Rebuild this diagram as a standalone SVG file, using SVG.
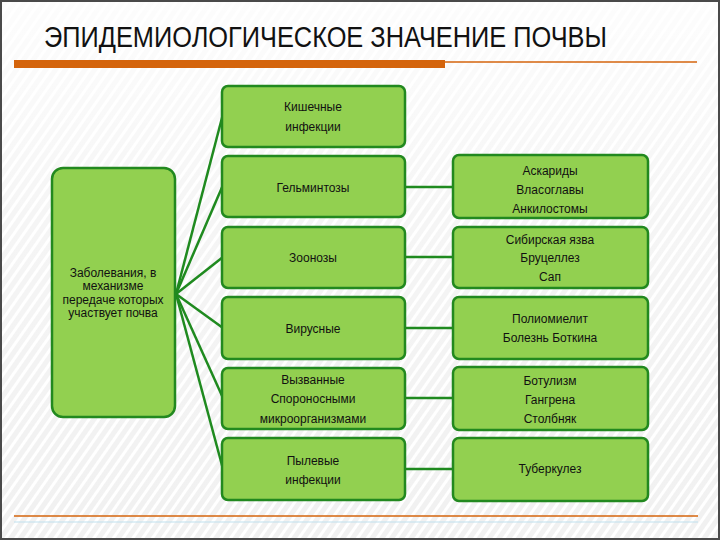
<svg xmlns="http://www.w3.org/2000/svg" width="720" height="540" viewBox="0 0 720 540">
<defs>
<pattern id="stripes" width="8" height="8" patternUnits="userSpaceOnUse" patternTransform="rotate(35)">
<rect width="8" height="8" fill="#f1f1f1"/>
<rect width="3" height="8" fill="#ffffff"/>
</pattern>
<linearGradient id="fade" x1="0" y1="0" x2="0" y2="1">
<stop offset="0" stop-color="#ffffff" stop-opacity="0.85"/>
<stop offset="0.4" stop-color="#ffffff" stop-opacity="0.3"/>
<stop offset="1" stop-color="#ffffff" stop-opacity="0"/>
</linearGradient>
</defs>
<style>
.box{fill:#92d050;stroke:#22891f;stroke-width:2.5}
.conn{stroke:#1f8a1f;stroke-width:2.5;fill:none}
.t{font-family:"Liberation Sans",Arial,sans-serif;font-size:12px;fill:#111;text-anchor:middle}
.tl{font-family:"Liberation Sans",Arial,sans-serif;font-size:12px;fill:#111;text-anchor:middle}
.title{font-family:"Liberation Sans",Arial,sans-serif;font-size:30px;fill:#111}
</style>
<rect x="0" y="0" width="720" height="540" fill="url(#stripes)"/>
<rect x="0" y="0" width="720" height="540" fill="url(#fade)"/>
<rect x="1" y="1" width="718" height="538" fill="none" stroke="#4a4a4a" stroke-width="2"/>

<text class="title" x="44" y="47" textLength="563" lengthAdjust="spacingAndGlyphs">ЭПИДЕМИОЛОГИЧЕСКОЕ ЗНАЧЕНИЕ ПОЧВЫ</text>
<rect x="14" y="60" width="431" height="8" fill="#d4640c"/>
<line x1="445" y1="62" x2="697" y2="62" stroke="#d4640c" stroke-width="1.5"/>
<line x1="14" y1="516" x2="698" y2="516" stroke="#d4640c" stroke-width="1.5"/>
<line x1="14" y1="522" x2="698" y2="522" stroke="#bfe0ee" stroke-width="1"/>

<g id="connectors">
<line class="conn" x1="176" y1="294" x2="223" y2="114"/>
<line class="conn" x1="176" y1="294" x2="223" y2="185"/>
<line class="conn" x1="176" y1="294" x2="223" y2="257"/>
<line class="conn" x1="176" y1="294" x2="223" y2="328"/>
<line class="conn" x1="176" y1="294" x2="223" y2="398"/>
<line class="conn" x1="176" y1="294" x2="223" y2="469"/>
<line class="conn" x1="405" y1="187" x2="453" y2="187"/>
<line class="conn" x1="405" y1="257" x2="453" y2="257"/>
<line class="conn" x1="405" y1="328" x2="453" y2="328"/>
<line class="conn" x1="405" y1="398" x2="453" y2="398"/>
<line class="conn" x1="405" y1="469" x2="453" y2="469"/>
</g>

<g id="root">
<rect class="box" x="52" y="168" width="123" height="249" rx="11"/>
<text class="tl" x="113" y="277">Заболевания, в</text>
<text class="tl" x="113" y="290">механизме</text>
<text class="tl" x="113" y="304">передаче которых</text>
<text class="tl" x="113" y="317">участвует почва</text>
</g>

<g id="m1">
<rect class="box" x="222" y="86" width="183" height="61" rx="6"/>
<text class="t" x="313" y="111">Кишечные</text>
<text class="t" x="313" y="131">инфекции</text>
</g>
<g id="m2">
<rect class="box" x="222" y="156" width="183" height="61" rx="6"/>
<text class="t" x="313" y="192">Гельминтозы</text>
</g>
<g id="m3">
<rect class="box" x="222" y="227" width="183" height="61" rx="6"/>
<text class="t" x="313" y="262">Зоонозы</text>
</g>
<g id="m4">
<rect class="box" x="222" y="297" width="183" height="62" rx="6"/>
<text class="t" x="313" y="333">Вирусные</text>
</g>
<g id="m5">
<rect class="box" x="222" y="368" width="183" height="61" rx="6"/>
<text class="t" x="313" y="384">Вызванные</text>
<text class="t" x="313" y="403">Спороносными</text>
<text class="t" x="313" y="423">микроорганизмами</text>
</g>
<g id="m6">
<rect class="box" x="222" y="438" width="183" height="62" rx="6"/>
<text class="t" x="313" y="465">Пылевые</text>
<text class="t" x="313" y="484">инфекции</text>
</g>

<g id="r1">
<rect class="box" x="453" y="155" width="195" height="63" rx="6"/>
<text class="t" x="550" y="175">Аскариды</text>
<text class="t" x="550" y="194">Власоглавы</text>
<text class="t" x="550" y="213">Анкилостомы</text>
</g>
<g id="r2">
<rect class="box" x="453" y="227" width="195" height="61" rx="6"/>
<text class="t" x="550" y="244">Сибирская язва</text>
<text class="t" x="550" y="262">Бруцеллез</text>
<text class="t" x="550" y="281">Сап</text>
</g>
<g id="r3">
<rect class="box" x="453" y="297" width="195" height="62" rx="6"/>
<text class="t" x="550" y="323">Полиомиелит</text>
<text class="t" x="550" y="342">Болезнь Боткина</text>
</g>
<g id="r4">
<rect class="box" x="453" y="367" width="195" height="63" rx="6"/>
<text class="t" x="550" y="385">Ботулизм</text>
<text class="t" x="550" y="404">Гангрена</text>
<text class="t" x="550" y="423">Столбняк</text>
</g>
<g id="r5">
<rect class="box" x="453" y="438" width="195" height="63" rx="6"/>
<text class="t" x="550" y="473">Туберкулез</text>
</g>
</svg>
